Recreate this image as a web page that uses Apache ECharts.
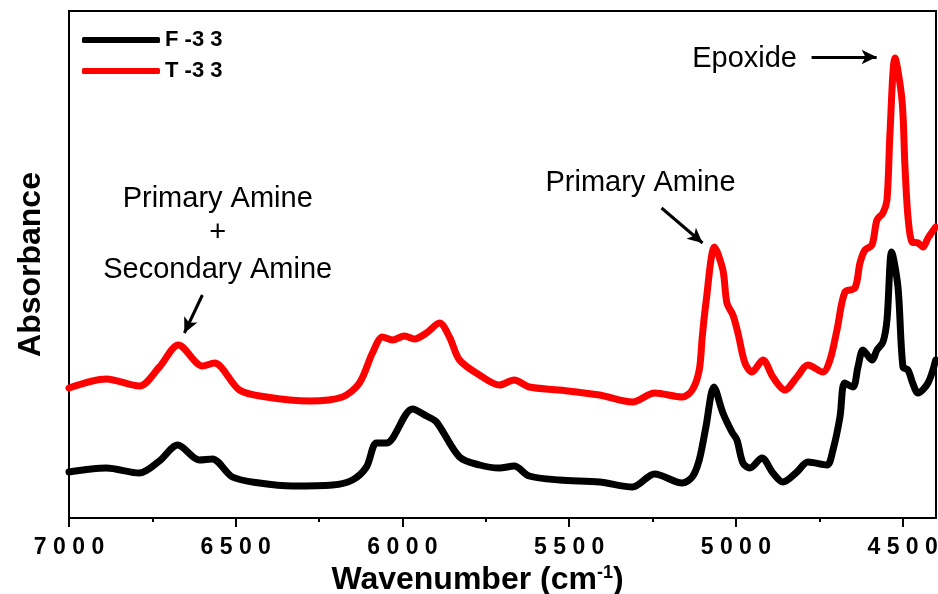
<!DOCTYPE html>
<html><head><meta charset="utf-8">
<script src="https://cdn.jsdelivr.net/npm/echarts@6/dist/echarts.min.js"></script>
<style>html,body{margin:0;padding:0;background:#fff}#c{width:938px;height:594px}</style>
</head><body><div id="c"></div>
<script>
const seriesNames = ['F -3 3', 'T -3 3'];
const seriesColors = ['#000000', '#ff0000'];

const wnF = [7000,6888,6789,6729,6674,6609,6570,6510,6429,6330,6210,6150,6108,6078,6048,5970,5928,5898,5829,5769,5709,5665,5620,5529,5409,5310,5244,5161,5131,5110,5090,5066,5039,5012,4997,4979,4958,4922,4889,4859,4817,4784,4727,4709,4688,4674,4649,4634,4619,4592,4577,4559,4547,4533,4514,4499,4484,4470,4454,4424,4401];
const absF = [46,50,45,57,73,58,59,41,35,32,33,38,51,75,75,109,102,96,61,53,50,52,42,38,36,31,44,35,41,58,91,131,105,86,78,55,50,60,45,36,46,56,53,68,101,135,131,151,168,158,168,176,198,266,231,151,148,135,125,135,158];

const wnT = [7000,6888,6789,6729,6672,6600,6564,6489,6408,6279,6180,6129,6090,6060,6030,5994,5964,5928,5889,5859,5829,5769,5709,5665,5620,5529,5409,5310,5244,5161,5131,5110,5101,5090,5064,5039,5027,5009,4994,4973,4952,4919,4889,4853,4817,4784,4739,4718,4697,4673,4643,4628,4613,4592,4577,4559,4547,4538,4523,4502,4493,4484,4472,4454,4439,4424,4401];
const absT = [130,139,132,151,173,152,155,128,121,117,121,135,165,181,178,182,179,185,195,181,158,143,133,138,131,128,123,116,125,121,128,148,181,215,271,248,215,203,185,155,146,158,141,128,141,153,146,158,188,226,230,255,268,273,298,305,318,385,460,418,351,301,276,275,271,280,291];

const xLabelValues = [7000, 6500, 6000, 5500, 5000, 4500];
const xMinorValues = [6750, 6250, 5750, 5250, 4750];

const noteTexts = [
  {text: 'Epoxide', x: 4974, y: 459},
  {text: 'Primary Amine', x: 5286, y: 335},
  {text: 'Primary Amine', x: 6554, y: 319},
  {text: '+', x: 6554, y: 285},
  {text: 'Secondary Amine', x: 6554, y: 248}
];
const noteArrows = [
  [[4773, 461], [4578, 461]],
  [[5223, 310], [5100, 275]],
  [[6600, 223], [6654, 185]]
];

const chart = echarts.init(document.getElementById('c'), null, {renderer: 'canvas'});
const FONT = 'Liberation Sans, Arial, sans-serif';
const spaced = v => String(v).split('').join(' ');

function pairs(xs, ys) { return xs.map((x, i) => [x, ys[i]]); }

chart.setOption({
  animation: false,
  backgroundColor: '#fff',
  grid: {left: 69, right: 2, top: 11, bottom: 76, containLabel: false, outerBoundsMode: 'none',
    show: true, borderColor: '#000', borderWidth: 2, backgroundColor: 'transparent'},
  legend: {
    orient: 'vertical', left: 77, top: 24, itemWidth: 78, itemHeight: 6, itemGap: 9,
    icon: 'roundRect',
    textStyle: {fontFamily: FONT, fontWeight: 'bold', fontSize: 22, color: '#000'},
    data: seriesNames
  },
  xAxis: [{
    type: 'value', inverse: true, min: 4400, max: 7000,
    axisLine: {show: true, lineStyle: {color: '#000', width: 2}},
    axisTick: {show: true, customValues: xLabelValues, length: 9, lineStyle: {color: '#000', width: 2}},
    axisLabel: {show: true, customValues: xLabelValues, formatter: v => spaced(v), margin: 18,
      fontFamily: FONT, fontWeight: 'bold', fontSize: 23, color: '#000'},
    splitLine: {show: false},
    name: '{a|Wavenumber (cm}{s|-1}{a|)}', nameLocation: 'middle', nameGap: 45,
    nameTextStyle: {padding: [0, 50, 0, 0], rich: {
      a: {fontFamily: FONT, fontWeight: 'bold', fontSize: 32, color: '#000'},
      s: {fontFamily: FONT, fontWeight: 'bold', fontSize: 18, color: '#000', padding: [0, 0, 14, 0]}
    }}
  }, {
    type: 'value', inverse: true, min: 4400, max: 7000, position: 'bottom',
    axisLine: {show: false},
    axisTick: {show: true, customValues: xMinorValues, length: 4, lineStyle: {color: '#000', width: 2}},
    axisLabel: {show: false},
    splitLine: {show: false}
  }],
  yAxis: {
    type: 'value', min: 0, max: 507,
    axisLine: {show: true, lineStyle: {color: '#000', width: 2}},
    axisTick: {show: false}, axisLabel: {show: false}, splitLine: {show: false},
    name: 'Absorbance', nameLocation: 'middle', nameGap: 22, nameRotate: 90,
    nameTextStyle: {fontFamily: FONT, fontWeight: 'bold', fontSize: 32, color: '#000'}
  },
  series: [
    {name: seriesNames[0], type: 'line', data: pairs(wnF, absF), smooth: 0.3, showSymbol: false,
      lineStyle: {color: seriesColors[0], width: 7, cap: 'round', join: 'round'}, itemStyle: {color: seriesColors[0]}},
    {name: seriesNames[1], type: 'line', data: pairs(wnT, absT), smooth: 0.3, showSymbol: false,
      lineStyle: {color: seriesColors[1], width: 7, cap: 'round', join: 'round'}, itemStyle: {color: seriesColors[1]},
      markLine: {silent: true, symbol: ['none', 'arrow'], symbolSize: [11, 15], animation: false,
        lineStyle: {color: '#000', width: 3, type: 'solid'}, label: {show: false},
        data: noteArrows.map(a => [{coord: a[0]}, {coord: a[1]}])}}
  ]
});

const g = noteTexts.map(n => {
  const p = chart.convertToPixel({xAxisIndex: 0, yAxisIndex: 0}, [n.x, n.y]);
  return {type: 'text', x: p[0], y: p[1], style: {text: n.text, fontFamily: FONT, fontSize: 29,
    fill: '#000', align: 'center', verticalAlign: 'middle'}, z: 100};
});
chart.setOption({graphic: g});
</script></body></html>
